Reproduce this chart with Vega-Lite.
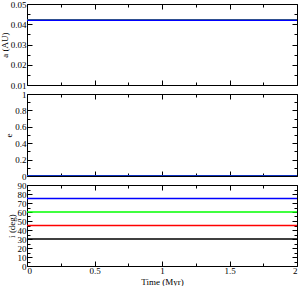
{
  "$schema": "https://vega.github.io/schema/vega-lite/v6.json",
  "padding": {"left": 0, "top": 0, "right": 0, "bottom": 0},
  "background": "white",
  "config": {
    "font": "Liberation Serif",
    "view": {"stroke": null},
    "axis": {
      "grid": false,
      "domainColor": "#000000",
      "domainWidth": 1,
      "tickColor": "#000000",
      "tickWidth": 1,
      "labelFont": "Liberation Serif",
      "labelFontSize": 9,
      "labelColor": "#000000",
      "labelOverlap": false,
      "titleFont": "Liberation Serif",
      "titleFontSize": 9,
      "titleFontWeight": "normal",
      "titleColor": "#000000",
      "labelPadding": 6,
      "titlePadding": 1
    }
  },
  "data": {
    "values": [
      {"t": 0, "s": "p30", "a": 0.042, "e": 0, "i": 30},
      {"t": 2, "s": "p30", "a": 0.042, "e": 0, "i": 30},
      {"t": 0, "s": "p45", "a": 0.042, "e": 0, "i": 45},
      {"t": 2, "s": "p45", "a": 0.042, "e": 0, "i": 45},
      {"t": 0, "s": "p60", "a": 0.042, "e": 0, "i": 60},
      {"t": 2, "s": "p60", "a": 0.042, "e": 0, "i": 60},
      {"t": 0, "s": "p75", "a": 0.042, "e": 0, "i": 75},
      {"t": 2, "s": "p75", "a": 0.042, "e": 0, "i": 75}
    ]
  },
  "spacing": 9,
  "bounds": "flush",
  "vconcat": [
    {
      "width": 270,
      "height": 81,
      "resolve": {"axis": {"x": "independent", "y": "independent"}},
      "layer": [
        {
          "mark": {"type": "line", "strokeWidth": 1.5, "clip": true},
          "encoding": {
            "x": {"field": "t", "type": "quantitative", "scale": {"domain": [0, 2], "nice": false},
              "axis": {"orient": "bottom", "values": [0,0.25,0.5,0.75,1,1.25,1.5,1.75,2], "labels": false, "title": null,
                "tickSize": {"condition": {"test": "abs(datum.value*2 - round(datum.value*2)) < 0.001", "value": -5}, "value": -3}}},
            "y": {"field": "a", "type": "quantitative", "scale": {"domain": [0.01, 0.05], "nice": false, "zero": false},
              "axis": {"orient": "left", "title": "a (AU)", "format": ".2f", "values": [0.01,0.015,0.02,0.025,0.03,0.035,0.04,0.045,0.05],
                "labelExpr": "abs(datum.value*100 - round(datum.value*100)) < 0.001 ? datum.label : ''",
                "tickSize": {"condition": {"test": "abs(datum.value*100 - round(datum.value*100)) < 0.001", "value": -5}, "value": -3}}},
            "color": {"field": "s", "type": "nominal", "legend": null,
              "scale": {"domain": ["p30","p45","p60","p75"], "range": ["#000000","#ff0000","#00ff00","#0000ff"]}}
          }
        },
        {
          "mark": {"type": "line", "opacity": 0},
          "encoding": {
            "x": {"field": "t", "type": "quantitative",
              "axis": {"orient": "top", "values": [0,0.25,0.5,0.75,1,1.25,1.5,1.75,2], "labels": false, "title": null,
                "tickSize": {"condition": {"test": "abs(datum.value*2 - round(datum.value*2)) < 0.001", "value": -5}, "value": -3}}},
            "y": {"field": "a", "type": "quantitative",
              "axis": {"orient": "right", "labels": false, "title": null, "values": [0.01,0.015,0.02,0.025,0.03,0.035,0.04,0.045,0.05],
                "tickSize": {"condition": {"test": "abs(datum.value*100 - round(datum.value*100)) < 0.001", "value": -5}, "value": -3}}},
            "detail": {"field": "s"}
          }
        }
      ]
    },
    {
      "width": 270,
      "height": 82,
      "resolve": {"axis": {"x": "independent", "y": "independent"}},
      "layer": [
        {
          "mark": {"type": "line", "strokeWidth": 1.5, "clip": true},
          "encoding": {
            "x": {"field": "t", "type": "quantitative", "scale": {"domain": [0, 2], "nice": false},
              "axis": {"orient": "bottom", "values": [0,0.25,0.5,0.75,1,1.25,1.5,1.75,2], "labels": false, "title": null,
                "tickSize": {"condition": {"test": "abs(datum.value*2 - round(datum.value*2)) < 0.001", "value": -5}, "value": -3}}},
            "y": {"field": "e", "type": "quantitative", "scale": {"domain": [0, 1], "nice": false},
              "axis": {"orient": "left", "title": "e", "format": "~g", "values": [0,0.1,0.2,0.3,0.4,0.5,0.6,0.7,0.8,0.9,1],
                "labelExpr": "abs(datum.value*5 - round(datum.value*5)) < 0.001 ? datum.label : ''",
                "tickSize": {"condition": {"test": "abs(datum.value*5 - round(datum.value*5)) < 0.001", "value": -5}, "value": -3}}},
            "color": {"field": "s", "type": "nominal", "legend": null,
              "scale": {"domain": ["p30","p45","p60","p75"], "range": ["#000000","#ff0000","#00ff00","#0000ff"]}}
          }
        },
        {
          "mark": {"type": "line", "opacity": 0},
          "encoding": {
            "x": {"field": "t", "type": "quantitative",
              "axis": {"orient": "top", "values": [0,0.25,0.5,0.75,1,1.25,1.5,1.75,2], "labels": false, "title": null,
                "tickSize": {"condition": {"test": "abs(datum.value*2 - round(datum.value*2)) < 0.001", "value": -5}, "value": -3}}},
            "y": {"field": "e", "type": "quantitative",
              "axis": {"orient": "right", "labels": false, "title": null, "values": [0,0.1,0.2,0.3,0.4,0.5,0.6,0.7,0.8,0.9,1],
                "tickSize": {"condition": {"test": "abs(datum.value*5 - round(datum.value*5)) < 0.001", "value": -5}, "value": -3}}},
            "detail": {"field": "s"}
          }
        }
      ]
    },
    {
      "width": 270,
      "height": 81,
      "resolve": {"axis": {"x": "independent", "y": "independent"}},
      "layer": [
        {
          "mark": {"type": "line", "strokeWidth": 1.5, "clip": true},
          "encoding": {
            "x": {"field": "t", "type": "quantitative", "scale": {"domain": [0, 2], "nice": false},
              "axis": {"orient": "bottom", "values": [0,0.25,0.5,0.75,1,1.25,1.5,1.75,2], "title": "Time (Myr)", "format": "~g",
                "titleFontWeight": "normal", "titlePadding": 0, "labelPadding": 5,
                "labelExpr": "abs(datum.value*2 - round(datum.value*2)) < 0.001 ? datum.label : ''",
                "tickSize": {"condition": {"test": "abs(datum.value*2 - round(datum.value*2)) < 0.001", "value": -5}, "value": -3}}},
            "y": {"field": "i", "type": "quantitative", "scale": {"domain": [0, 90], "nice": false},
              "axis": {"orient": "left", "title": "i (deg)", "format": "d", "values": [0,5,10,15,20,25,30,35,40,45,50,55,60,65,70,75,80,85,90],
                "labelExpr": "datum.value % 10 == 0 ? datum.label : ''",
                "tickSize": {"condition": {"test": "datum.value % 10 == 0", "value": -5}, "value": -3}}},
            "color": {"field": "s", "type": "nominal", "legend": null,
              "scale": {"domain": ["p30","p45","p60","p75"], "range": ["#000000","#ff0000","#00ff00","#0000ff"]}}
          }
        },
        {
          "mark": {"type": "line", "opacity": 0},
          "encoding": {
            "x": {"field": "t", "type": "quantitative",
              "axis": {"orient": "top", "values": [0,0.25,0.5,0.75,1,1.25,1.5,1.75,2], "labels": false, "title": null,
                "tickSize": {"condition": {"test": "abs(datum.value*2 - round(datum.value*2)) < 0.001", "value": -5}, "value": -3}}},
            "y": {"field": "i", "type": "quantitative",
              "axis": {"orient": "right", "labels": false, "title": null, "values": [0,5,10,15,20,25,30,35,40,45,50,55,60,65,70,75,80,85,90],
                "tickSize": {"condition": {"test": "datum.value % 10 == 0", "value": -5}, "value": -3}}},
            "detail": {"field": "s"}
          }
        }
      ]
    }
  ]
}
